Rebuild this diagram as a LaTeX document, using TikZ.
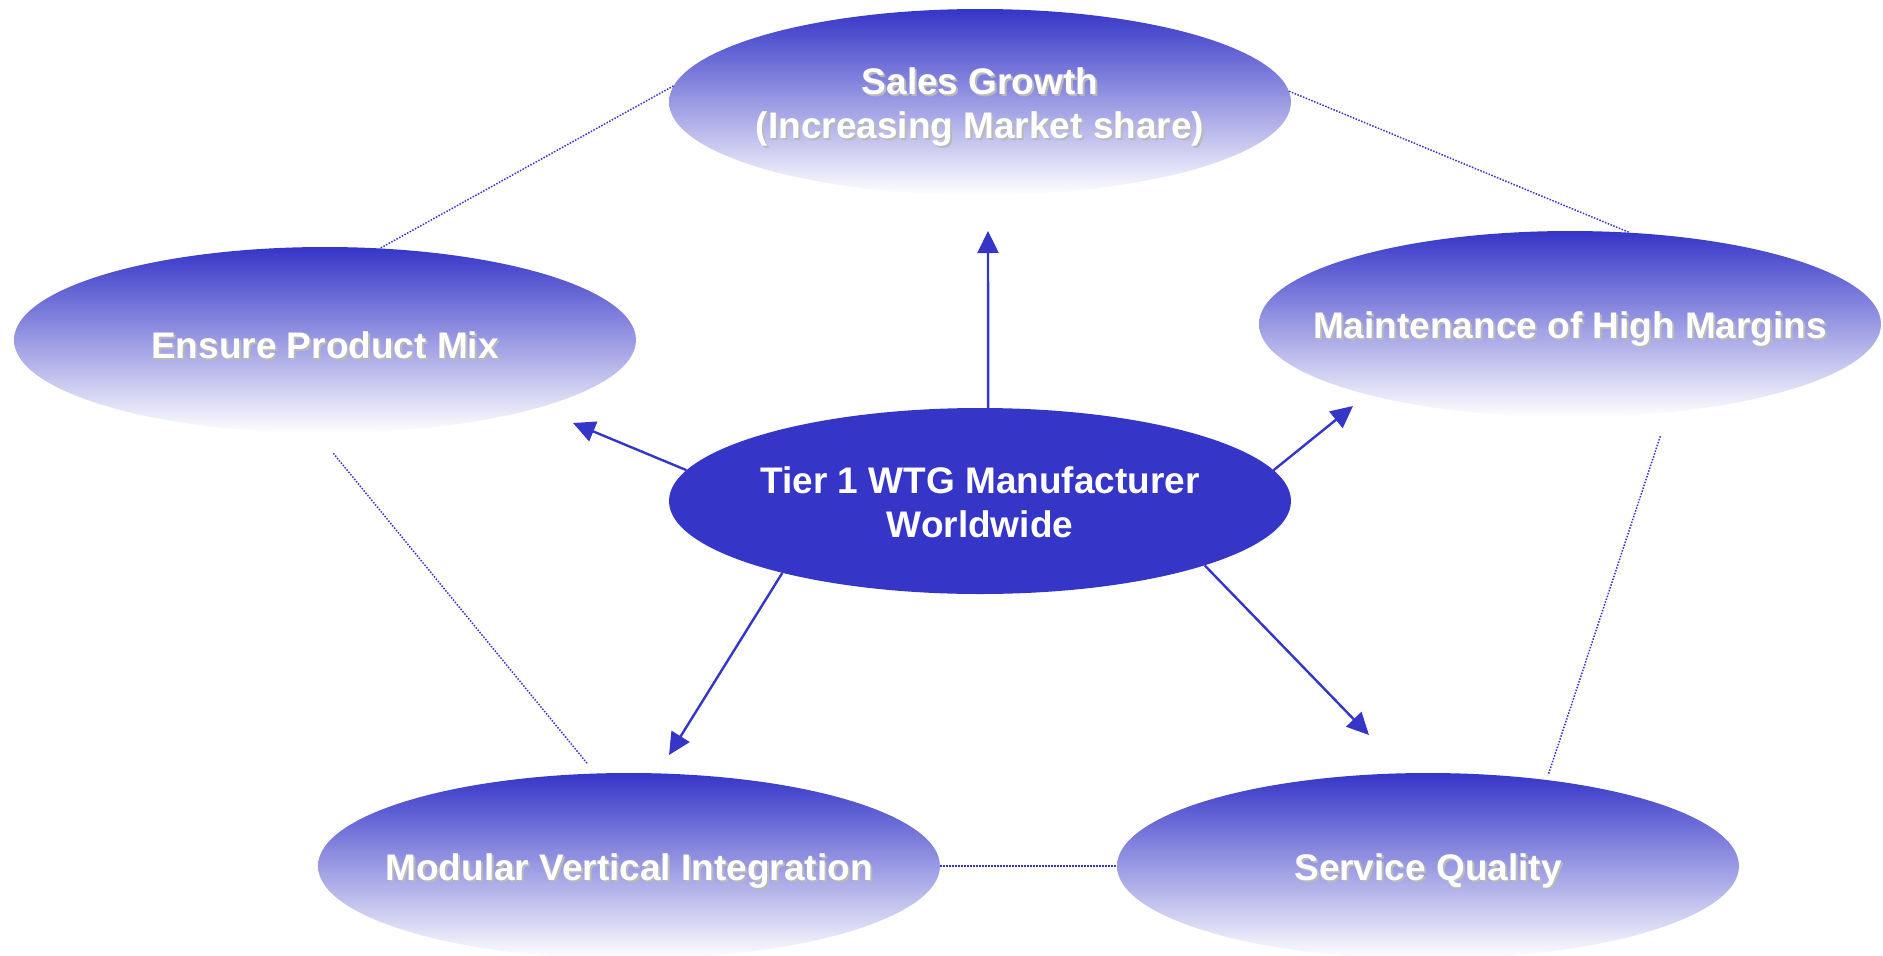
\documentclass[tikz,border=0pt]{standalone}
\usepackage{fontspec}
\setmainfont{Liberation Sans}
\usepackage{tikz}
\usetikzlibrary{arrows.meta,shapes.geometric}
\definecolor{tierblue}{RGB}{53,53,200}
% white text with a soft grey offset behind it
\newcommand{\shtext}[1]{\makebox[0pt][l]{\hspace{2pt}\raisebox{-2pt}{\textcolor{gray!55}{#1}}}#1}
\tikzset{
	blob/.style={
		ellipse, minimum width=622pt, minimum height=186pt,
		inner sep=0pt
	},
	bubble/.style={blob, top color=tierblue, bottom color=white},
	hub/.style={blob, fill=tierblue},
	bubbletext/.style={
		text=white, align=center, inner sep=0pt, yshift=-6pt,
		font=\bfseries\fontsize{37}{44}\selectfont
	},
}

\begin{document}
\begin{tikzpicture}[x=1pt,y=-1pt,
			link/.style={tierblue, line width=1.5pt, dash pattern=on 1.5pt off 1.5pt},
			push/.style={tierblue, line width=2.4pt, -{Triangle[width=21pt,length=22pt]}}]
		\useasboundingbox (0,0) rectangle (1883,956);
		\node[bubble] (sales)  at (980,102) {};
		\node[bubble] (ensure) at (325,340) {};
		\node[bubble] (maint)  at (1570,324) {};
		\node[hub]    (tier)   at (980,501) {};
		\node[bubble] (mvi)    at (629,866) {};
		\node[bubble] (sq)     at (1428,866) {};
		\node[bubbletext] (salestext)  at (sales)  {\shtext{Sales Growth}\\\shtext{(Increasing Market share)}};
		\node[bubbletext] (ensuretext) at (ensure) {\shtext{Ensure Product Mix}};
		\node[bubbletext] (mainttext)  at (maint)  {\shtext{Maintenance of High Margins}};
		\node[bubbletext, yshift=5pt] (tiertext) at (tier) {Tier 1 WTG Manufacturer\\Worldwide};
		\node[bubbletext] (mvitext)    at (mvi)    {\shtext{Modular Vertical Integration}};
		\node[bubbletext] (sqtext)     at (sq)     {\shtext{Service Quality}};
		% dotted ring
		\draw[link] (sales.177) -- (ensure.59);
		\draw[link] (sales.2) -- (maint.57);
		\draw[link, shorten <=26pt, shorten >=12pt] (ensure.265) -- (mvi.110);
		\draw[link, shorten <=25pt, shorten >=5pt] (maint.318) -- (sq.36);
		\draw[link] (mvi.east) -- (sq.west);
		% arrows out of the hub
		\coordinate (tipsales)  at (988,231);
		\coordinate (tipensure) at (573,423);
		\coordinate (tipmaint)  at (1353,406);
		\coordinate (tipmvi)    at (669,755);
		\coordinate (tipsq)     at (1369,735);
		\draw[push] (tier.85) -- (tipsales);
		\draw[push] (tier.174) -- (tipensure);
		\draw[push] (tier.6) -- (tipmaint);
		\draw[push] (tier.200) -- (tipmvi);
		\draw[push] (tier.344) -- (tipsq);
	\end{tikzpicture}
\end{document}
